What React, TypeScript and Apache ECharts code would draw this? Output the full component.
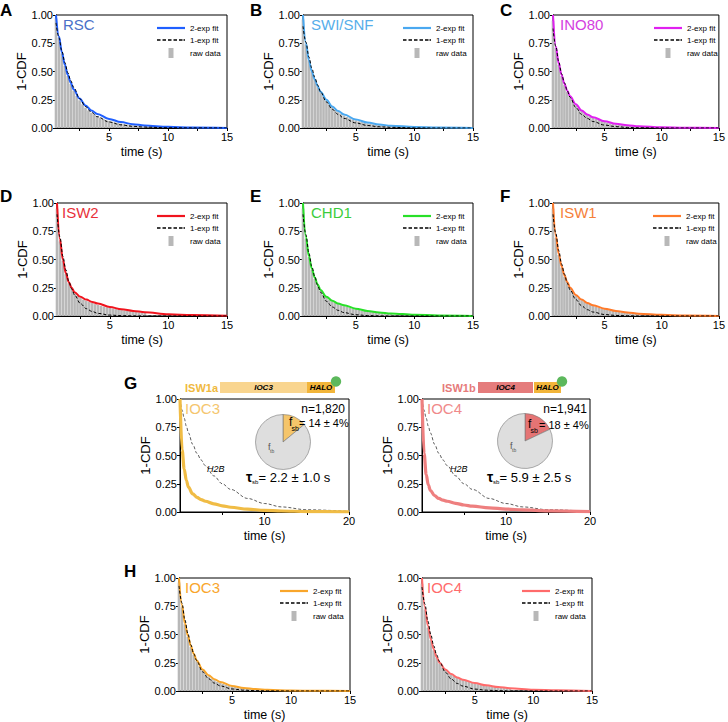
import React, { useEffect, useRef } from "react";
import * as echarts from "echarts";

const FONT = '"Liberation Sans", Arial, Helvetica, sans-serif';

// ---------- data ----------
// time points of the fitted curves (s)
const FIT_TIME = [0.5, 0.75, 1, 1.25, 1.5, 1.75, 2, 2.5, 3, 3.5, 4, 5, 6, 7, 8, 10, 12, 15];
// raw data bins (s)
const RAW_TIME = [0.5, 0.75, 1, 1.25, 1.5, 1.75, 2, 2.25, 2.5, 2.75, 3, 3.25, 3.5, 3.75, 4, 4.25, 4.5, 4.75, 5, 5.25, 5.5, 5.75, 6, 6.25, 6.5, 6.75, 7, 7.25, 7.5, 7.75, 8];

const RSC_FIT2 = [1.0, 0.81, 0.67, 0.56, 0.47, 0.4, 0.34, 0.26, 0.2, 0.155, 0.125, 0.08, 0.052, 0.034, 0.022, 0.01, 0.004, 0.001];
const RSC_FIT1 = [0.93, 0.8, 0.68, 0.58, 0.49, 0.42, 0.36, 0.26, 0.19, 0.14, 0.1, 0.053, 0.028, 0.015, 0.008, 0.002, 0.001, 0];
const RSC_RAW = [0.97, 0.8, 0.66, 0.55, 0.46, 0.39, 0.33, 0.285, 0.245, 0.21, 0.18, 0.155, 0.135, 0.12, 0.105, 0.092, 0.082, 0.072, 0.064, 0.056, 0.05, 0.044, 0.039, 0.034, 0.03, 0.027, 0.024, 0.021, 0.018, 0.016, 0.014];

const SWI_FIT2 = [1.0, 0.75, 0.6, 0.5, 0.43, 0.37, 0.32, 0.25, 0.19, 0.15, 0.12, 0.075, 0.048, 0.031, 0.02, 0.009, 0.004, 0.001];
const SWI_FIT1 = [0.9, 0.76, 0.63, 0.53, 0.45, 0.38, 0.32, 0.23, 0.165, 0.12, 0.085, 0.045, 0.022, 0.011, 0.006, 0.001, 0, 0];
const SWI_RAW = [0.96, 0.74, 0.6, 0.5, 0.43, 0.37, 0.32, 0.28, 0.24, 0.21, 0.185, 0.16, 0.14, 0.125, 0.11, 0.097, 0.086, 0.076, 0.067, 0.059, 0.052, 0.046, 0.041, 0.036, 0.032, 0.028, 0.025, 0.022, 0.019, 0.017, 0.015];

const INO_FIT2 = [1.0, 0.72, 0.57, 0.47, 0.39, 0.33, 0.28, 0.21, 0.155, 0.12, 0.095, 0.06, 0.038, 0.025, 0.016, 0.007, 0.003, 0.001];
const INO_FIT1 = [0.88, 0.72, 0.59, 0.48, 0.4, 0.33, 0.27, 0.18, 0.12, 0.085, 0.057, 0.026, 0.012, 0.005, 0.002, 0, 0, 0];
const INO_RAW = [0.95, 0.71, 0.56, 0.46, 0.38, 0.32, 0.27, 0.235, 0.2, 0.175, 0.15, 0.13, 0.115, 0.1, 0.09, 0.08, 0.07, 0.062, 0.055, 0.048, 0.042, 0.037, 0.033, 0.029, 0.026, 0.023, 0.02, 0.018, 0.016, 0.014, 0.012];

const ISW2_FIT2 = [1.0, 0.68, 0.5, 0.38, 0.3, 0.25, 0.21, 0.17, 0.145, 0.125, 0.11, 0.08, 0.06, 0.045, 0.033, 0.016, 0.008, 0.002];
const ISW2_FIT1 = [0.9, 0.7, 0.53, 0.41, 0.31, 0.24, 0.185, 0.11, 0.065, 0.04, 0.023, 0.008, 0.003, 0.001, 0, 0, 0, 0];
const ISW2_RAW = [0.95, 0.66, 0.49, 0.37, 0.29, 0.24, 0.2, 0.18, 0.16, 0.145, 0.135, 0.125, 0.115, 0.105, 0.098, 0.09, 0.083, 0.077, 0.071, 0.066, 0.061, 0.056, 0.052, 0.048, 0.044, 0.041, 0.038, 0.035, 0.032, 0.03, 0.028];

const CHD1_FIT2 = [1.0, 0.7, 0.53, 0.42, 0.34, 0.28, 0.23, 0.17, 0.135, 0.11, 0.095, 0.065, 0.045, 0.032, 0.023, 0.011, 0.005, 0.001];
const CHD1_FIT1 = [0.9, 0.72, 0.56, 0.44, 0.35, 0.27, 0.21, 0.13, 0.08, 0.05, 0.03, 0.011, 0.004, 0.001, 0, 0, 0, 0];
const CHD1_RAW = [0.95, 0.68, 0.52, 0.41, 0.33, 0.27, 0.225, 0.19, 0.165, 0.145, 0.13, 0.118, 0.107, 0.097, 0.088, 0.08, 0.072, 0.066, 0.06, 0.054, 0.049, 0.045, 0.041, 0.037, 0.034, 0.031, 0.028, 0.025, 0.023, 0.021, 0.019];

const ISW1_FIT2 = [1.0, 0.71, 0.55, 0.44, 0.36, 0.3, 0.25, 0.185, 0.145, 0.115, 0.095, 0.065, 0.045, 0.031, 0.021, 0.01, 0.004, 0.001];
const ISW1_FIT1 = [0.9, 0.73, 0.58, 0.46, 0.37, 0.29, 0.23, 0.145, 0.09, 0.056, 0.035, 0.013, 0.005, 0.002, 0, 0, 0, 0];
const ISW1_RAW = [0.95, 0.69, 0.54, 0.43, 0.35, 0.29, 0.245, 0.21, 0.18, 0.16, 0.14, 0.125, 0.112, 0.1, 0.09, 0.081, 0.073, 0.066, 0.06, 0.054, 0.049, 0.044, 0.04, 0.036, 0.032, 0.029, 0.026, 0.023, 0.021, 0.019, 0.017];

const IOC3_FIT2 = [1.0, 0.76, 0.6, 0.49, 0.4, 0.33, 0.27, 0.19, 0.14, 0.105, 0.08, 0.045, 0.027, 0.017, 0.011, 0.004, 0.002, 0];
const IOC3_FIT1 = [0.93, 0.78, 0.63, 0.51, 0.41, 0.33, 0.27, 0.17, 0.11, 0.07, 0.045, 0.018, 0.007, 0.003, 0.001, 0, 0, 0];
const IOC3_RAW = [0.96, 0.74, 0.59, 0.48, 0.39, 0.32, 0.265, 0.22, 0.185, 0.155, 0.13, 0.11, 0.095, 0.082, 0.072, 0.062, 0.054, 0.047, 0.041, 0.036, 0.031, 0.027, 0.024, 0.021, 0.018, 0.016, 0.014, 0.012, 0.011, 0.01, 0.009];

const IOC4_FIT2 = [1.0, 0.74, 0.58, 0.46, 0.37, 0.3, 0.25, 0.19, 0.15, 0.12, 0.1, 0.07, 0.05, 0.035, 0.025, 0.012, 0.006, 0.001];
const IOC4_FIT1 = [0.92, 0.77, 0.62, 0.5, 0.4, 0.32, 0.26, 0.165, 0.105, 0.067, 0.043, 0.017, 0.007, 0.003, 0.001, 0, 0, 0];
const IOC4_RAW = [0.95, 0.72, 0.56, 0.45, 0.36, 0.295, 0.245, 0.21, 0.185, 0.165, 0.148, 0.133, 0.12, 0.108, 0.098, 0.089, 0.081, 0.074, 0.067, 0.061, 0.056, 0.051, 0.047, 0.043, 0.039, 0.036, 0.033, 0.03, 0.027, 0.025, 0.023];

// panel G: survival curves vs H2B reference
const G_TIME = [0, 0.25, 0.5, 0.75, 1, 1.5, 2, 2.5, 3, 4, 5, 6, 8, 10, 12, 15, 20];
const H2B_CURVE = [1.0, 0.9, 0.83, 0.76, 0.7, 0.6, 0.52, 0.46, 0.41, 0.32, 0.25, 0.2, 0.12, 0.075, 0.045, 0.02, 0.005];
const IOC3_G_CURVE = [1.0, 0.55, 0.38, 0.28, 0.22, 0.16, 0.13, 0.11, 0.095, 0.072, 0.055, 0.042, 0.025, 0.015, 0.009, 0.004, 0.001];
const IOC4_G_CURVE = [1.0, 0.52, 0.33, 0.24, 0.19, 0.145, 0.12, 0.105, 0.095, 0.077, 0.062, 0.052, 0.037, 0.026, 0.018, 0.01, 0.004];
const G_N = [1820, 1941];
const G_FSB = [14, 18];
const G_FSB_ERR = [4, 4];
const G_TAU = [2.2, 5.9];
const G_TAU_ERR = [1.0, 2.5];

// axis ticks
const Y_TICKS = [0, 0.25, 0.5, 0.75, 1];
const X15_TICKS = [2.5, 5, 7.5, 10, 12.5, 15];
const X15_LABELS = [5, 10, 15];
const X20_TICKS = [5, 10, 15, 20];
const X20_LABELS = [10, 20];

// ---------- layout / style ----------
const FIT_PANELS = [
  { key: "A", title: "RSC", line: "#1f5fff", text: "#4a70c8", g: [56, 15, 171, 113], tl: 63, fit2: RSC_FIT2, fit1: RSC_FIT1, raw: RSC_RAW },
  { key: "B", title: "SWI/SNF", line: "#4aa8f0", text: "#56aeea", g: [303, 15, 170, 113], tl: 311, fit2: SWI_FIT2, fit1: SWI_FIT1, raw: SWI_RAW },
  { key: "C", title: "INO80", line: "#e020f0", text: "#d43fe0", g: [553, 15, 171, 113], tl: 560, fit2: INO_FIT2, fit1: INO_FIT1, raw: INO_RAW },
  { key: "D", title: "ISW2", line: "#f0141e", text: "#e8303a", g: [57, 203, 170, 113], tl: 62, fit2: ISW2_FIT2, fit1: ISW2_FIT1, raw: ISW2_RAW },
  { key: "E", title: "CHD1", line: "#28e028", text: "#3ccc3c", g: [303, 203, 170, 113], tl: 311, fit2: CHD1_FIT2, fit1: CHD1_FIT1, raw: CHD1_RAW },
  { key: "F", title: "ISW1", line: "#ff7a2a", text: "#f57f3a", g: [553, 203, 170, 113], tl: 560, fit2: ISW1_FIT2, fit1: ISW1_FIT1, raw: ISW1_RAW },
  { key: "H1", title: "IOC3", line: "#f9a62b", text: "#f9a62b", g: [179, 578, 171, 114], tl: 185, fit2: IOC3_FIT2, fit1: IOC3_FIT1, raw: IOC3_RAW },
  { key: "H2", title: "IOC4", line: "#ff6b6b", text: "#ff6b6b", g: [422, 578, 170, 114], tl: 427, fit2: IOC4_FIT2, fit1: IOC4_FIT1, raw: IOC4_RAW },
];

const G_PANELS = [
  {
    title: "IOC3", curve: IOC3_G_CURVE, line: "#f0bc45", text: "#f5c66e", g: [180, 399, 169, 113], tl: 185,
    pie: [283, 442], slice: "#f5c56a", construct: "ISW1a", cColor: "#f0b940", bar: "#f9d58f",
    hdr: { textX: 185, barX: 220, barW: 87, haloX: 307, haloW: 28, circ: 336 },
    fsb: { fx: 289, fy: 421.5, tx: 299 }, ftb: { x: 268, y: 447 }, tau: { x: 246 }, h2b: 207, nRight: 345,
  },
  {
    title: "IOC4", curve: IOC4_G_CURVE, line: "#ee7f7f", text: "#f08a8a", g: [422, 399, 168, 113], tl: 427,
    pie: [525, 441], slice: "#e57474", construct: "ISW1b", cColor: "#e67a7a", bar: "#e57c7c",
    hdr: { textX: 442, barX: 478, barW: 55, haloX: 534, haloW: 27, circ: 562 },
    fsb: { fx: 528, fy: 424, tx: 539 }, ftb: { x: 510, y: 446 }, tau: { x: 487 }, h2b: 450, nRight: 587,
  },
];

const LETTERS = [
  ["A", 0, 10], ["B", 250, 10], ["C", 500, 10],
  ["D", 0, 196], ["E", 250, 196], ["F", 500, 196],
  ["G", 124, 383], ["H", 124, 571],
];

const ICON_SOLID = "path://M0,0h28v2.2h-28z";
const ICON_DASH = "path://M0,0h3.5v1.4h-3.5zM5.5,0h3.5v1.4h-3.5zM11,0h3.5v1.4h-3.5zM16.5,0h3.5v1.4h-3.5zM22,0h3.5v1.4h-3.5zM26.5,0h1.5v1.4h-1.5z";
const ICON_BAR = "path://M0,0h5v10h-5z";

function txt(x: number, y: number, text: string, o: any = {}) {
  const align = o.align || "left";
  return {
    type: "text", x, y, silent: true, z: 100,
    style: {
      text, fill: o.color || "#000", fontSize: o.size || 12, fontFamily: FONT,
      fontWeight: o.weight || "normal", fontStyle: o.style || "normal",
      align, textAlign: align, verticalAlign: "middle", textVerticalAlign: "middle",
    },
  };
}

function buildOption() {
  const grid: any[] = [], xAxis: any[] = [], yAxis: any[] = [], series: any[] = [];
  const legend: any[] = [], title: any[] = [], graphic: any[] = [];

  const addAxes = (i: number, g: number[], xmin: number, xmax: number, ticks: number[], labels: number[]) => {
    grid.push({ left: g[0], top: g[1], width: g[2], height: g[3], show: true, borderColor: "#000", borderWidth: 1, backgroundColor: "transparent", containLabel: false });
    xAxis.push({
      gridIndex: i, type: "value", min: xmin, max: xmax,
      axisLine: { show: true, onZero: false, lineStyle: { color: "#000", width: 1 } },
      axisTick: { show: true, length: 3, inside: false, customValues: ticks, lineStyle: { color: "#000", width: 1 } },
      axisLabel: { show: true, customValues: labels, color: "#000", fontSize: 11, fontFamily: FONT, margin: 3 },
      splitLine: { show: false },
      name: "time (s)", nameLocation: "middle", nameGap: 17,
      nameTextStyle: { color: "#000", fontSize: 12.5, fontFamily: FONT },
    });
    yAxis.push({
      gridIndex: i, type: "value", min: 0, max: 1, interval: 0.25,
      axisLine: { show: true, lineStyle: { color: "#000", width: 1 } },
      axisTick: { show: true, length: 3, customValues: Y_TICKS, lineStyle: { color: "#000", width: 1 } },
      axisLabel: { show: true, customValues: Y_TICKS, color: "#000", fontSize: 11, fontFamily: FONT, margin: 3, formatter: (v: number) => v.toFixed(2) },
      splitLine: { show: false },
      name: "1-CDF", nameLocation: "middle", nameGap: 27,
      nameTextStyle: { color: "#000", fontSize: 13, fontFamily: FONT },
    });
  };

  let gi = 0;
  FIT_PANELS.forEach((p) => {
    const i = gi++;
    addAxes(i, p.g, 0.5, 15, X15_TICKS, X15_LABELS);
    const n2 = p.key + "|2-exp fit", n1 = p.key + "|1-exp fit", nr = p.key + "|raw data";
    series.push({
      type: "bar", name: nr, xAxisIndex: i, yAxisIndex: i, silent: true, z: 1,
      data: RAW_TIME.map((t, j) => [t, p.raw[j]]), barWidth: 2.6,
      itemStyle: { color: "#b8b8b8" },
    });
    series.push({
      type: "line", name: n2, xAxisIndex: i, yAxisIndex: i, silent: true, z: 3,
      data: FIT_TIME.map((t, j) => [t, p.fit2[j]]), smooth: 0.35, smoothMonotone: "x",
      symbol: "none", showSymbol: false,
      lineStyle: { color: p.line, width: 2 }, itemStyle: { color: p.line },
    });
    series.push({
      type: "line", name: n1, xAxisIndex: i, yAxisIndex: i, silent: true, z: 4,
      data: FIT_TIME.map((t, j) => [t, p.fit1[j]]), smooth: 0.35, smoothMonotone: "x",
      symbol: "none", showSymbol: false,
      lineStyle: { color: "#000", width: 1, type: [3, 2] }, itemStyle: { color: "#000" },
    });
    legend.push({
      left: p.g[0] + p.g[2] - 70, top: p.g[1] + 9, orient: "vertical", padding: 0,
      itemWidth: 28, itemHeight: 10, itemGap: 4, selectedMode: false,
      data: [
        { name: n2, icon: ICON_SOLID },
        { name: n1, icon: ICON_DASH },
        { name: nr, icon: ICON_BAR },
      ],
      formatter: (n: string) => n.split("|")[1],
      textStyle: { fontSize: 8, color: "#000", fontFamily: FONT },
    });
    title.push({
      text: p.title, left: p.tl, top: p.g[1] + 2, padding: 0,
      textStyle: { fontSize: 15, fontWeight: "normal", color: p.text, fontFamily: FONT },
    });
  });

  G_PANELS.forEach((p, k) => {
    const i = gi++;
    addAxes(i, p.g, 0, 20, X20_TICKS, X20_LABELS);
    series.push({
      type: "line", name: "H2B" + k, xAxisIndex: i, yAxisIndex: i, silent: true, z: 3,
      data: G_TIME.map((t, j) => [t, H2B_CURVE[j]]), smooth: 0.35, smoothMonotone: "x",
      symbol: "none", showSymbol: false,
      lineStyle: { color: "#333", width: 0.8, type: [3, 2] },
    });
    series.push({
      type: "line", name: p.title + "G", xAxisIndex: i, yAxisIndex: i, silent: true, z: 4,
      data: G_TIME.map((t, j) => [t, p.curve[j]]), smooth: 0.35, smoothMonotone: "x",
      symbol: "none", showSymbol: false,
      lineStyle: { color: p.line, width: 3.2 },
    });
    series.push({
      type: "pie", name: "pie" + k, center: p.pie, radius: 27.5, startAngle: 90, clockwise: true,
      silent: true, z: 5, label: { show: false }, labelLine: { show: false },
      itemStyle: { borderColor: "#777", borderWidth: 0.6 },
      data: [
        { name: "sb", value: G_FSB[k], itemStyle: { color: p.slice } },
        { name: "tb", value: 100 - G_FSB[k], itemStyle: { color: "#dedede" } },
      ],
    });
    title.push({
      text: p.title, left: p.tl, top: p.g[1] + 2, padding: 0,
      textStyle: { fontSize: 15, fontWeight: "normal", color: p.text, fontFamily: FONT },
    });
    const top = p.g[1];
    // construct header
    graphic.push(txt(p.hdr.textX, 387.5, p.construct, { size: 11, weight: "bold", color: p.cColor }));
    graphic.push({ type: "rect", silent: true, z: 90, shape: { x: p.hdr.barX, y: 382, width: p.hdr.barW, height: 11 }, style: { fill: p.bar } });
    graphic.push({ type: "rect", silent: true, z: 90, shape: { x: p.hdr.haloX, y: 382, width: p.hdr.haloW, height: 11 }, style: { fill: "#f2b53a" } });
    graphic.push(txt(p.hdr.barX + p.hdr.barW / 2, 387.5, p.title, { size: 8, weight: "bold", style: "italic", align: "center" }));
    graphic.push(txt(p.hdr.haloX + p.hdr.haloW / 2, 387.5, "HALO", { size: 8, weight: "bold", style: "italic", align: "center" }));
    graphic.push({ type: "circle", silent: true, z: 95, shape: { cx: p.hdr.circ, cy: 381.5, r: 5.2 }, style: { fill: "#5cb85c" } });
    // annotations
    graphic.push(txt(p.nRight, top + 9.5, "n=" + G_N[k].toLocaleString("en-US"), { size: 12, align: "right" }));
    graphic.push(txt(p.fsb.fx, p.fsb.fy, "f", { size: 12 }));
    graphic.push(txt(p.fsb.fx + 2.5, p.fsb.fy + 6.5, "sb", { size: 7 }));
    graphic.push(txt(p.fsb.tx, p.fsb.fy + 1, "= " + G_FSB[k] + " ± " + G_FSB_ERR[k] + "%", { size: 11 }));
    graphic.push(txt(p.ftb.x, p.ftb.y, "f", { size: 9, color: "#555" }));
    graphic.push(txt(p.ftb.x + 2, p.ftb.y + 4, "tb", { size: 5, color: "#555" }));
    graphic.push(txt(p.tau.x, top + 78, "τ", { size: 14, weight: "bold" }));
    graphic.push(txt(p.tau.x + 6, top + 82.5, "sb", { size: 6 }));
    graphic.push(txt(p.tau.x + 12.5, top + 78, "= " + G_TAU[k].toFixed(1) + " ± " + G_TAU_ERR[k].toFixed(1) + " s", { size: 13 }));
    graphic.push(txt(p.h2b, top + 70, "H2B", { size: 9, style: "italic" }));
  });

  LETTERS.forEach(([l, x, y]) => graphic.push(txt(x as number, y as number, l as string, { size: 17, weight: "bold" })));

  return {
    animation: false,
    backgroundColor: "#fff",
    textStyle: { fontFamily: FONT },
    grid, xAxis, yAxis, series, legend, title,
    graphic: { elements: graphic },
  };
}

export default function App() {
  const ref = useRef<HTMLDivElement>(null);
  useEffect(() => {
    const chart = echarts.init(ref.current!, null, { renderer: "svg" });
    chart.setOption(buildOption() as any);
    return () => chart.dispose();
  }, []);
  return (
    <div
      ref={ref}
      style={{ position: "absolute", left: 0, top: 0, width: 728, height: 722, background: "#fff" }}
    />
  );
}
